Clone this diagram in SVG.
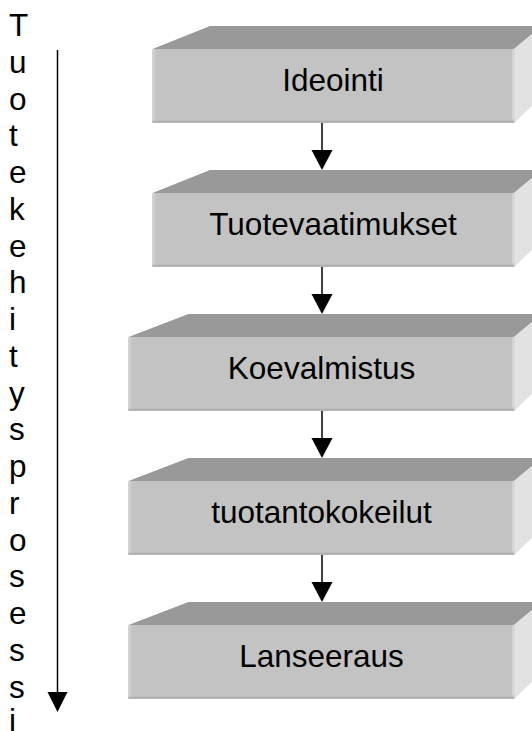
<svg xmlns="http://www.w3.org/2000/svg" width="532" height="731" viewBox="0 0 532 731">
<style>
.top{fill:#999999}
.front{fill:#c3c3c3}
.lstrip{fill:#cdcdcd}
.bstrip{fill:#b3b3b3}
.rstrip{fill:#d4d4d4}
.side{fill:#e2e2e2}
.lbl{font-family:"Liberation Sans",Arial,sans-serif;font-size:31.5px;fill:#000;text-anchor:middle}
.vt{font-family:"Liberation Sans",Arial,sans-serif;font-size:31.5px;fill:#000}
.ln{stroke:#000;stroke-width:1.5;fill:none}
.hd{fill:#000}
</style>
<rect width="532" height="731" fill="#fff"/>
<g id="title">
<text class="vt" x="9" y="36">T</text>
<text class="vt" x="9" y="72.75">u</text>
<text class="vt" x="9" y="109.5">o</text>
<text class="vt" x="9" y="146.25">t</text>
<text class="vt" x="9" y="183">e</text>
<text class="vt" x="9" y="219.75">k</text>
<text class="vt" x="9" y="256.5">e</text>
<text class="vt" x="9" y="293.25">h</text>
<text class="vt" x="9" y="330">i</text>
<text class="vt" x="9" y="366.75">t</text>
<text class="vt" x="9" y="403.5">y</text>
<text class="vt" x="9" y="440.25">s</text>
<text class="vt" x="9" y="477">p</text>
<text class="vt" x="9" y="513.75">r</text>
<text class="vt" x="9" y="550.5">o</text>
<text class="vt" x="9" y="587.25">s</text>
<text class="vt" x="9" y="624">e</text>
<text class="vt" x="9" y="660.75">s</text>
<text class="vt" x="9" y="697.5">s</text>
<text class="vt" x="9" y="731">i</text>
</g>
<g id="box1">
<polygon class="top" points="152.5,49 210,26 532,26 532,34 514,49"/>
<polygon class="side" points="514,49 532,34 532,106 514,123"/>
<rect class="front" x="152.5" y="49" width="361.5" height="74"/>
<rect class="lstrip" x="152.5" y="49" width="3" height="74"/>
<rect class="rstrip" x="512" y="49" width="2.5" height="74"/>
<rect class="bstrip" x="152.5" y="120.5" width="361.5" height="2.5"/>
<text class="lbl" x="333" y="91">Ideointi</text>
</g>
<g id="box2">
<polygon class="top" points="152.5,193 210,170 532,170 532,178 514,193"/>
<polygon class="side" points="514,193 532,178 532,250 514,267"/>
<rect class="front" x="152.5" y="193" width="361.5" height="74"/>
<rect class="lstrip" x="152.5" y="193" width="3" height="74"/>
<rect class="rstrip" x="512" y="193" width="2.5" height="74"/>
<rect class="bstrip" x="152.5" y="264.5" width="361.5" height="2.5"/>
<text class="lbl" x="333" y="235">Tuotevaatimukset</text>
</g>
<g id="box3">
<polygon class="top" points="128.5,337 188.5,314 532,314 532,322 514,337"/>
<polygon class="side" points="514,337 532,322 532,394 514,411"/>
<rect class="front" x="128.5" y="337" width="385.5" height="74"/>
<rect class="lstrip" x="128.5" y="337" width="3" height="74"/>
<rect class="rstrip" x="512" y="337" width="2.5" height="74"/>
<rect class="bstrip" x="128.5" y="408.5" width="385.5" height="2.5"/>
<text class="lbl" x="321.5" y="379">Koevalmistus</text>
</g>
<g id="box4">
<polygon class="top" points="128.5,481 188.5,458 532,458 532,466 514,481"/>
<polygon class="side" points="514,481 532,466 532,538 514,555"/>
<rect class="front" x="128.5" y="481" width="385.5" height="74"/>
<rect class="lstrip" x="128.5" y="481" width="3" height="74"/>
<rect class="rstrip" x="512" y="481" width="2.5" height="74"/>
<rect class="bstrip" x="128.5" y="552.5" width="385.5" height="2.5"/>
<text class="lbl" x="321.5" y="523">tuotantokokeilut</text>
</g>
<g id="box5">
<polygon class="top" points="128.5,625 188.5,602 532,602 532,610 514,625"/>
<polygon class="side" points="514,625 532,610 532,682 514,699"/>
<rect class="front" x="128.5" y="625" width="385.5" height="74"/>
<rect class="lstrip" x="128.5" y="625" width="3" height="74"/>
<rect class="rstrip" x="512" y="625" width="2.5" height="74"/>
<rect class="bstrip" x="128.5" y="696.5" width="385.5" height="2.5"/>
<text class="lbl" x="321.5" y="667">Lanseeraus</text>
</g>
<g id="connectors">
<line class="ln" x1="57.5" y1="50" x2="57.5" y2="693"/>
<polygon class="hd" points="47.5,692 67.5,692 57.5,712"/>
<line class="ln" x1="322" y1="123" x2="322" y2="151"/>
<polygon class="hd" points="311.5,150 332.5,150 322,170"/>
<line class="ln" x1="322" y1="267" x2="322" y2="295"/>
<polygon class="hd" points="311.5,294 332.5,294 322,314"/>
<line class="ln" x1="322" y1="411" x2="322" y2="439"/>
<polygon class="hd" points="311.5,438 332.5,438 322,458"/>
<line class="ln" x1="322" y1="555" x2="322" y2="583"/>
<polygon class="hd" points="311.5,582 332.5,582 322,602"/>
</g>
</svg>
